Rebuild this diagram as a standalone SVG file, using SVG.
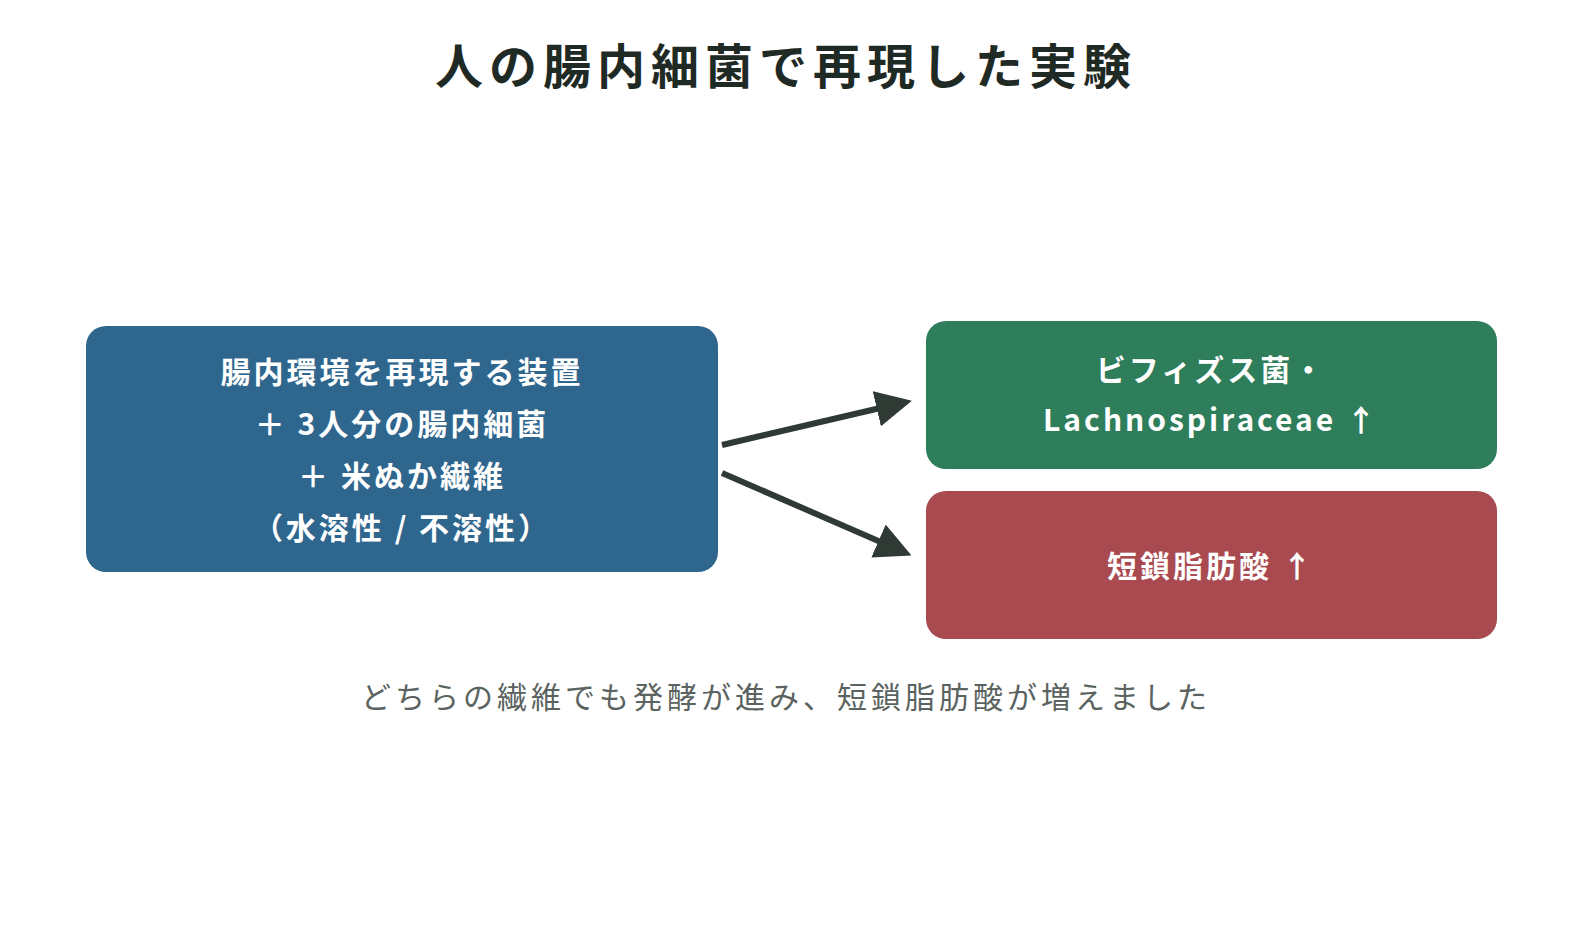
<svg xmlns="http://www.w3.org/2000/svg" width="1590" height="948" viewBox="0 0 1590 948">
<style>
.t{font-family:"Noto Sans CJK JP","Noto Sans",sans-serif;text-anchor:middle}
.n{font-size:30px;font-weight:bold;fill:#fff;letter-spacing:3px}
.c{stroke:#2f3a35;stroke-width:6;fill:none;marker-end:url(#ah)}
</style>
<defs><marker id="ah" markerWidth="6" markerHeight="6" refX="5" refY="3" orient="auto" markerUnits="strokeWidth"><path d="M0,0L6,3L0,6Z" fill="#2f3a35"/></marker></defs>
<rect width="1590" height="948" fill="#fff"/>
<text class="t" x="786" y="84" font-size="48" font-weight="bold" fill="#1f2a25" letter-spacing="6">人の腸内細菌で再現した実験</text>
<g id="connectors">
<line class="c" x1="722" y1="445" x2="906" y2="402"/>
<line class="c" x1="722" y1="473" x2="906" y2="553"/>
</g>
<g id="source">
<rect x="86" y="326" width="632" height="246" rx="20" fill="#2f668e"/>
<text class="t n" x="402" y="383">腸内環境を再現する装置</text>
<text class="t n" x="402" y="435">＋ 3人分の腸内細菌</text>
<text class="t n" x="402" y="487">＋ 米ぬか繊維</text>
<text class="t n" x="402" y="539">（水溶性 / 不溶性）</text>
</g>
<g id="bacteria">
<rect x="926" y="321" width="571" height="148" rx="20" fill="#2e7d5b"/>
<text class="t n" x="1211" y="381">ビフィズス菌・</text>
<text class="t n" x="1211" y="431">Lachnospiraceae ↑</text>
</g>
<g id="scfa">
<rect x="926" y="491" width="571" height="148" rx="20" fill="#a84a50"/>
<text class="t n" x="1211" y="577">短鎖脂肪酸 ↑</text>
</g>
<text class="t" x="786" y="708" font-size="30" fill="#5a6360" letter-spacing="4">どちらの繊維でも発酵が進み、短鎖脂肪酸が増えました</text>
</svg>
